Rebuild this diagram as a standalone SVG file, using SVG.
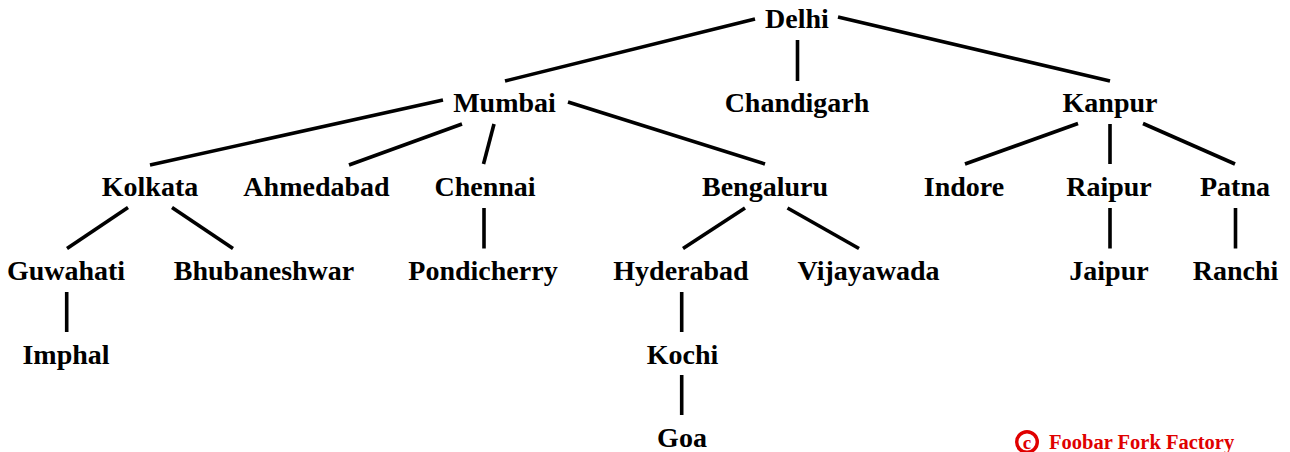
<svg xmlns="http://www.w3.org/2000/svg" width="1290" height="452" viewBox="0 0 1290 452">
<style>
.n text{font-family:"Liberation Serif","Times New Roman",serif;font-weight:bold;font-size:28px;fill:#000;text-anchor:middle}
.c line{stroke:#000;stroke-width:3.6;stroke-linecap:butt}
.cr{font-family:"Liberation Serif","Times New Roman",serif;font-weight:bold;fill:#e00000}
</style>
<rect width="1290" height="452" fill="#fff"/>
<g class="c" id="connectors">
<line x1="755" y1="19" x2="505" y2="81"/>
<line x1="797.5" y1="40" x2="797.5" y2="81"/>
<line x1="838" y1="17" x2="1110" y2="81"/>
<line x1="443" y1="100" x2="150" y2="165"/>
<line x1="462" y1="124" x2="349" y2="165"/>
<line x1="494" y1="124" x2="483.5" y2="164"/>
<line x1="568" y1="102" x2="765" y2="164"/>
<line x1="1078" y1="123.5" x2="965" y2="164"/>
<line x1="1110" y1="124" x2="1110" y2="164"/>
<line x1="1143" y1="123.5" x2="1235" y2="164"/>
<line x1="128" y1="207.5" x2="67" y2="248.5"/>
<line x1="172" y1="207.5" x2="233" y2="248.5"/>
<line x1="484" y1="208" x2="484" y2="248.5"/>
<line x1="745" y1="208" x2="683" y2="248.5"/>
<line x1="787.5" y1="208" x2="859" y2="248.5"/>
<line x1="1110" y1="208" x2="1110" y2="248.5"/>
<line x1="1235.5" y1="208" x2="1235.5" y2="248.5"/>
<line x1="66.7" y1="292" x2="66.7" y2="332"/>
<line x1="681.7" y1="292" x2="681.7" y2="332"/>
<line x1="681.7" y1="375" x2="681.7" y2="415"/>
</g>
<g class="n">
<g id="delhi"><text x="797" y="28">Delhi</text></g>
<g id="mumbai"><text x="504.5" y="112">Mumbai</text></g>
<g id="chandigarh"><text x="797" y="112">Chandigarh</text></g>
<g id="kanpur"><text x="1110" y="112">Kanpur</text></g>
<g id="kolkata"><text x="150" y="196">Kolkata</text></g>
<g id="ahmedabad"><text x="316.5" y="196">Ahmedabad</text></g>
<g id="chennai"><text x="485" y="196">Chennai</text></g>
<g id="bengaluru"><text x="765" y="196">Bengaluru</text></g>
<g id="indore"><text x="964" y="196">Indore</text></g>
<g id="raipur"><text x="1109" y="196">Raipur</text></g>
<g id="patna"><text x="1235" y="196">Patna</text></g>
<g id="guwahati"><text x="66" y="280">Guwahati</text></g>
<g id="bhubaneshwar"><text x="264" y="280">Bhubaneshwar</text></g>
<g id="pondicherry"><text x="483" y="280">Pondicherry</text></g>
<g id="hyderabad"><text x="681" y="280">Hyderabad</text></g>
<g id="vijayawada"><text x="868.5" y="280">Vijayawada</text></g>
<g id="jaipur"><text x="1109" y="280">Jaipur</text></g>
<g id="ranchi"><text x="1235.5" y="280">Ranchi</text></g>
<g id="imphal"><text x="66" y="364">Imphal</text></g>
<g id="kochi"><text x="682.5" y="364">Kochi</text></g>
<g id="goa"><text x="682" y="447">Goa</text></g>
</g>
<g id="copyright">
<circle cx="1027" cy="442" r="10.3" fill="none" stroke="#e00000" stroke-width="3.4"/>
<text class="cr" x="1027" y="448.5" font-size="19" text-anchor="middle">c</text>
<text class="cr" x="1049" y="449" font-size="20.5">Foobar Fork Factory</text>
</g>
</svg>
